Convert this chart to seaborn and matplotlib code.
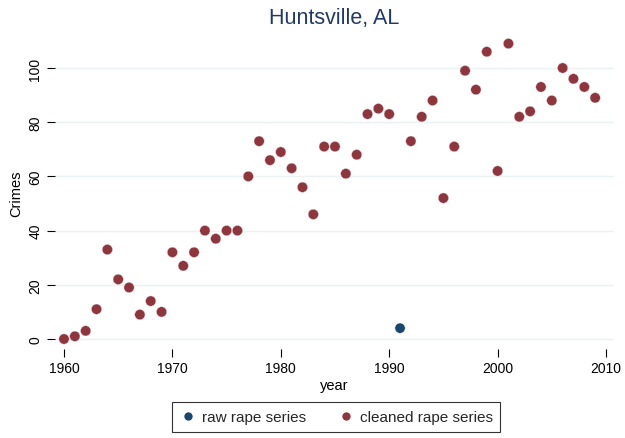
import numpy as np
import pandas as pd
import matplotlib
matplotlib.use("Agg")
import matplotlib.pyplot as plt
from matplotlib.lines import Line2D
import seaborn as sns

years = list(range(1960, 2010))
cleaned = [0, 1, 3, 11, 33, 22, 19, 9, 14, 10,
           32, 27, 32, 40, 37, 40, 40, 60, 73, 66,
           69, 63, 56, 46, 71, 71, 61, 68, 83, 85,
           83, np.nan, 73, 82, 88, 52, 71, 99, 92, 106,
           62, 109, 82, 84, 93, 88, 100, 96, 93, 89]
raw = [0, 1, 3, 11, 33, 22, 19, 9, 14, 10,
       32, 27, 32, 40, 37, 40, 40, 60, 73, 66,
       69, 63, 56, 46, 71, 71, 61, 68, 83, 85,
       83, 4, 73, 82, 88, 52, 71, 99, 92, 106,
       62, 109, 82, 84, 93, 88, 100, 96, 93, 89]
series_names = ["raw rape series", "cleaned rape series"]
colors = ["#1A476F", "#90353B"]
xticks = [1960, 1970, 1980, 1990, 2000, 2010]
yticks = [0, 20, 40, 60, 80, 100]

df = pd.concat([
    pd.DataFrame({"year": years, "Crimes": raw, "series": series_names[0]}),
    pd.DataFrame({"year": years, "Crimes": cleaned, "series": series_names[1]}),
]).dropna()

sns.set_theme(style="white")
plt.rcParams["font.family"] = ["Liberation Sans", "DejaVu Sans"]

W, H = 625, 439
fig = plt.figure(figsize=(W / 100, H / 100), dpi=100)
left, right, top, bottom = 55, 614, 38, 350
ax = fig.add_axes([left / W, 1 - bottom / H, (right - left) / W, (bottom - top) / H])

sns.scatterplot(data=df, x="year", y="Crimes", hue="series",
                palette=dict(zip(series_names, colors)), s=55,
                edgecolor="white", linewidth=0.3, legend=False, ax=ax, zorder=3)

px_per_year = 10.84
px_per_unit = 2.71
ax.set_xlim(1960 - (64 - left) / px_per_year, 1960 + (right - 64) / px_per_year)
ax.set_ylim(-(bottom - 340) / px_per_unit, (340 - top) / px_per_unit)

ax.set_xticks(xticks)
ax.set_yticks(yticks)
ax.set_yticklabels([str(v) for v in yticks], rotation=90, va="center")
ax.grid(axis="y", color="#EAF2F3", linewidth=1.0, zorder=0)
ax.grid(axis="x", visible=False)
for sp in ax.spines.values():
    sp.set_visible(False)
ax.tick_params(axis="both", which="major", length=6, width=0.8, color="black",
               labelsize=10, labelcolor="black", pad=3, left=True, bottom=True)

ax.set_xlabel("year", fontsize=10.5, color="black", labelpad=2)
ax.set_ylabel("Crimes", fontsize=10.5, color="black", labelpad=4)
ax.set_title("Huntsville, AL", fontsize=15.5, color="#1F3A68", pad=10)

handles = [Line2D([0], [0], marker="o", linestyle="none", markersize=6,
                  markerfacecolor=c, markeredgecolor="none") for c in colors]
leg = fig.legend(handles, series_names, loc="center", ncol=2,
                 bbox_to_anchor=(336 / W, 1 - 418 / H), frameon=True,
                 fontsize=11, handletextpad=0.3, columnspacing=2.0,
                 borderpad=0.5, handlelength=1.2, fancybox=False)
leg.get_frame().set_edgecolor("black")
leg.get_frame().set_linewidth(0.8)

fig.savefig("out.png", dpi=100)
